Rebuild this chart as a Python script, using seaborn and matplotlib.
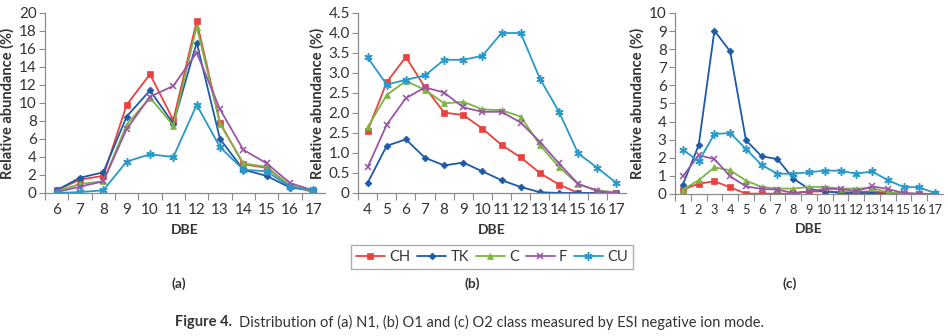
import numpy as np
import pandas as pd
import seaborn as sns
import matplotlib.pyplot as plt
from matplotlib.ticker import FixedLocator, NullFormatter

sns.set_style("white")
plt.rcParams['font.family'] = ['Lato', 'DejaVu Sans']

series = ["CH", "TK", "C", "F", "CU"]

# Panel (a): N1 class
dbe_a = list(range(6, 18))
a_CH = [0.3, 1.5, 1.9, 9.8, 13.2, 8.1, 19.1, 7.8, 3.2, 2.8, 0.8, 0.1]
a_TK = [0.3, 1.7, 2.3, 8.5, 11.4, 7.7, 16.7, 6.0, 2.6, 1.9, 0.6, 0.3]
a_C = [0.2, 1.0, 1.3, 7.6, 10.6, 7.5, 18.5, 7.7, 3.3, 2.9, 0.8, 0.2]
a_F = [0.1, 0.7, 1.3, 7.1, 10.7, 11.9, 15.6, 9.3, 4.8, 3.3, 1.1, 0.3]
a_CU = [0.0, 0.1, 0.3, 3.5, 4.3, 4.0, 9.8, 5.1, 2.6, 2.4, 0.7, 0.3]

# Panel (b): O1 class
dbe_b = list(range(4, 18))
b_CH = [1.55, 2.77, 3.40, 2.64, 2.01, 1.95, 1.61, 1.20, 0.89, 0.50, 0.21, 0.0, 0.0, 0.0]
b_TK = [0.25, 1.18, 1.34, 0.88, 0.69, 0.76, 0.54, 0.32, 0.15, 0.02, 0.0, 0.0, 0.0, 0.0]
b_C = [1.64, 2.45, 2.80, 2.58, 2.24, 2.28, 2.09, 2.07, 1.91, 1.20, 0.65, 0.22, 0.07, 0.01]
b_F = [0.64, 1.71, 2.37, 2.64, 2.51, 2.14, 2.03, 2.03, 1.76, 1.28, 0.74, 0.23, 0.05, 0.0]
b_CU = [3.39, 2.71, 2.83, 2.94, 3.33, 3.33, 3.43, 4.0, 4.0, 2.86, 2.03, 0.99, 0.63, 0.25]

# Panel (c): O2 class
dbe_c = list(range(1, 18))
c_CH = [0.24, 0.57, 0.70, 0.37, 0.02, 0.02, 0.02, 0.02, 0.13, 0.15, 0.10, 0.10, 0.15, 0.05, 0.02, 0.0, 0.0]
c_TK = [0.52, 2.69, 9.02, 7.88, 2.97, 2.08, 1.93, 0.85, 0.28, 0.15, 0.05, 0.05, 0.05, 0.0, 0.0, 0.0, 0.0]
c_C = [0.24, 0.76, 1.47, 1.31, 0.74, 0.39, 0.30, 0.30, 0.39, 0.39, 0.30, 0.30, 0.33, 0.09, 0.04, 0.0, 0.0]
c_F = [0.98, 2.14, 1.93, 0.98, 0.42, 0.28, 0.24, 0.06, 0.15, 0.28, 0.28, 0.15, 0.42, 0.28, 0.05, 0.02, 0.0]
c_CU = [2.45, 1.80, 3.31, 3.37, 2.49, 1.60, 1.12, 1.12, 1.20, 1.29, 1.29, 1.12, 1.25, 0.76, 0.39, 0.37, 0.04]

# y tick labels (as printed, including the original "2.5" at 1.5 in panel b)
yt_a = [0, 2, 4, 6, 8, 10, 12, 14, 16, 18, 20]
yt_b = [0, 0.5, 1.0, 1.5, 2.0, 2.5, 3.0, 3.5, 4.0, 4.5]
yl_b = ["0", "0.5", "1.0", "2.5", "2.0", "2.5", "3.0", "3.5", "4.0", "4.5"]
yt_c = list(range(0, 11))

palette = {"CH": "#E8423F", "TK": "#1E5AA6", "C": "#7CB542", "F": "#9A55A8", "CU": "#2999C8"}
markers = {"CH": "s", "TK": "D", "C": "^", "F": "x", "CU": (6, 2, 0)}
msizes = {"CH": 5, "TK": 3.5, "C": 4.5, "F": 5, "CU": 6}

def long_df(dbe, vals):
    rows = []
    for s, v in zip(series, vals):
        for d, y in zip(dbe, v):
            rows.append({"DBE": d, "val": y, "s": s})
    return pd.DataFrame(rows)

W, H = 948, 336
fig = plt.figure(figsize=(W / 100, H / 100), dpi=100)

def rect(l, r, t, b):
    return [l / W, 1 - b / H, (r - l) / W, (b - t) / H]

axes_specs = [
    (rect(45, 325, 13, 193), dbe_a, [a_CH, a_TK, a_C, a_F, a_CU], yt_a, [str(v) for v in yt_a], 20, 11),
    (rect(358, 626, 13, 193), dbe_b, [b_CH, b_TK, b_C, b_F, b_CU], yt_b, yl_b, 4.5, 11),
    (rect(675, 943, 13, 194), dbe_c, [c_CH, c_TK, c_C, c_F, c_CU], yt_c, [str(v) for v in yt_c], 10, 9.3),
]

tcol = "#333333"
scol = "#8a8a8a"
handles = None
for pos, dbe, vals, yt, yl, ymax, xls in axes_specs:
    ax = fig.add_axes(pos)
    df = long_df(dbe, vals)
    for s in series:
        sub = df[df.s == s]
        sns.lineplot(data=sub, x="DBE", y="val", ax=ax, color=palette[s], marker=markers[s],
                     markersize=msizes[s], markeredgewidth=1.1 if s in ("F", "CU") else 0.5,
                     markeredgecolor=palette[s], linewidth=1.3, label=s)
    ax.set_xlim(dbe[0] - 0.5, dbe[-1] + 0.5)
    ax.set_ylim(0, ymax)
    ax.set_xticks(dbe)
    ax.set_xticklabels([str(d) for d in dbe])
    ax.xaxis.set_minor_locator(FixedLocator([d + 0.5 for d in dbe[:-1]] + [dbe[0] - 0.5]))
    ax.xaxis.set_minor_formatter(NullFormatter())
    ax.tick_params(axis="x", which="major", length=0, labelsize=xls, colors=tcol, pad=7)
    ax.tick_params(axis="x", which="minor", length=5, width=0.8, color=scol, direction="out", bottom=True)
    ax.set_yticks(yt)
    ax.set_yticklabels(yl)
    ax.tick_params(axis="y", length=4, width=0.8, color=scol, direction="out", left=True,
                   labelsize=11, pad=2)
    for lab in ax.get_yticklabels():
        lab.set_color(tcol)
    for sp in ["top", "right"]:
        ax.spines[sp].set_visible(False)
    for sp in ["left", "bottom"]:
        ax.spines[sp].set_color(scol)
        ax.spines[sp].set_linewidth(0.9)
    ax.set_xlabel("DBE", fontsize=10, fontweight="bold", color=tcol, labelpad=5)
    ax.set_ylabel("Relative abundance (%)", fontsize=10.5, fontweight="bold", color=tcol, labelpad=3)
    h, l = ax.get_legend_handles_labels()
    if handles is None:
        handles = (h, l)
    ax.get_legend().remove()

leg = fig.legend(handles[0], handles[1], loc="center", bbox_to_anchor=(492 / W, 1 - 257 / H),
                 ncol=5, frameon=True, fontsize=10.5, handlelength=2.0, columnspacing=0.45,
                 handletextpad=0.3, borderpad=0.35, fancybox=False)
leg.get_frame().set_edgecolor("#9a9a9a")
leg.get_frame().set_linewidth(1.0)
for t in leg.get_texts():
    t.set_color(tcol)

for lab, x in [("(a)", 179), ("(b)", 472), ("(c)", 790)]:
    fig.text(x / W, 1 - 284 / H, lab, ha="center", va="center", fontsize=10, fontweight="bold", color=tcol)

fig.text(232 / W, 1 - 322 / H, "Figure 4.", ha="right", va="center", fontsize=10.5, fontweight="bold",
         color=tcol)
fig.text(239 / W, 1 - 322 / H, "Distribution of (a) N1, (b) O1 and (c) O2 class measured by ESI negative ion mode.",
         ha="left", va="center", fontsize=10.5, color=tcol)

fig.savefig("out.png", dpi=100)
